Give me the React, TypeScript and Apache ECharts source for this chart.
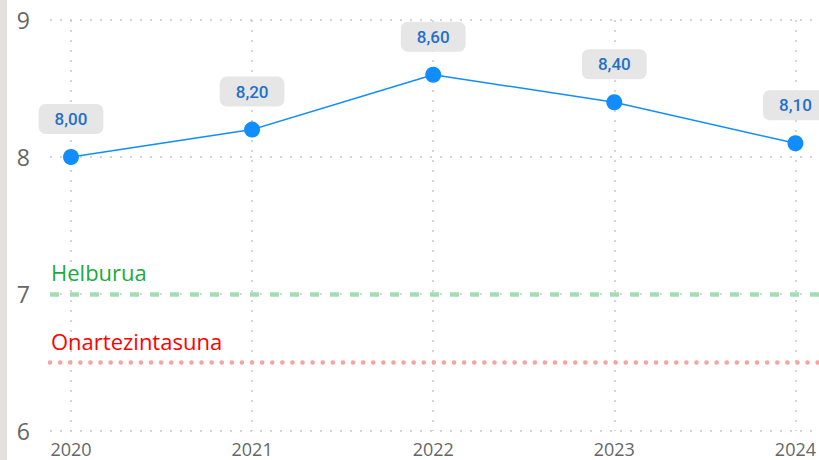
import React, { useEffect, useRef } from "react";
import * as echarts from "echarts";

const years = ["2020", "2021", "2022", "2023", "2024"];
const values = [8.0, 8.2, 8.6, 8.4, 8.1];
const targetValue = 7;
const targetName = "Helburua";
const limitValue = 6.5;
const limitName = "Onartezintasuna";
const yMin = 6;
const yMax = 9;

export default function App() {
  const ref = useRef<HTMLDivElement>(null);
  useEffect(() => {
    const chart = echarts.init(ref.current!, null, { renderer: "svg" });
    const grid = "#c8c8c8";
    chart.setOption({
      animation: false,
      backgroundColor: "#ffffff",
      graphic: [
        { type: "rect", left: 0, top: 0, shape: { x: 0, y: 0, width: 7, height: 460 }, style: { fill: "#e4e1dc" } },
      ],
      grid: [
        { left: 50, right: 0, top: 20, bottom: 29 },
        { left: 71, right: 20, top: 20, bottom: 29 },
      ],
      xAxis: [
        { type: "value", gridIndex: 0, min: 0, max: 1, show: false },
        {
          type: "category",
          gridIndex: 1,
          data: years,
          boundaryGap: false,
          axisLine: { show: false },
          axisTick: { show: false },
          axisLabel: { color: "#666666", fontSize: 18, fontFamily: "Open Sans", margin: 9 },
          splitLine: { show: true, lineStyle: { color: grid, width: 1.5, type: [2, 8] } },
        },
      ],
      yAxis: [
        {
          type: "value",
          gridIndex: 0,
          min: yMin,
          max: yMax,
          interval: 1,
          axisLine: { show: false },
          axisTick: { show: false },
          axisLabel: { color: "#666666", fontSize: 23, fontFamily: "Open Sans", margin: 20 },
          splitLine: { show: true, lineStyle: { color: grid, width: 1.5, type: [2, 8] } },
        },
        { type: "value", gridIndex: 1, min: yMin, max: yMax, show: false },
      ],
      series: [
        {
          type: "line",
          xAxisIndex: 0,
          yAxisIndex: 0,
          data: [],
          silent: true,
          markLine: {
            symbol: "none",
            silent: true,
            data: [
              {
                yAxis: targetValue,
                name: targetName,
                lineStyle: { color: "#a6dbb5", width: 4.5, type: [9, 11] },
                label: {
                  show: true,
                  formatter: targetName,
                  position: "insideStartTop",
                  color: "#1aab40",
                  fontSize: 22,
                  fontFamily: "Open Sans",
                  distance: [1, 11],
                },
              },
              {
                yAxis: limitValue,
                name: limitName,
                lineStyle: { color: "#f5a3a3", width: 4.5, type: [0.1, 10], cap: "round" },
                label: {
                  show: true,
                  formatter: limitName,
                  position: "insideStartTop",
                  color: "#ff0000",
                  fontSize: 22,
                  fontFamily: "Open Sans",
                  distance: [1, 11],
                },
              },
            ],
          },
        },
        {
          type: "line",
          xAxisIndex: 1,
          yAxisIndex: 1,
          data: values,
          symbol: "circle",
          symbolSize: 16,
          lineStyle: { color: "#118dff", width: 1.5 },
          itemStyle: { color: "#118dff" },
          label: {
            show: true,
            position: "top",
            distance: 15,
            formatter: (p: any) => p.value.toFixed(2).replace(".", ","),
            color: "#1f70c8",
            fontSize: 17,
            fontWeight: 500,
            fontFamily: "Roboto",
            backgroundColor: "#e6e6e6",
            borderRadius: 7,
            padding: [6, 16],
            lineHeight: 18,
          },
        },
      ],
    });
    return () => chart.dispose();
  }, []);
  return <div ref={ref} style={{ position: "fixed", left: 0, top: 0, width: 819, height: 460 }} />;
}
